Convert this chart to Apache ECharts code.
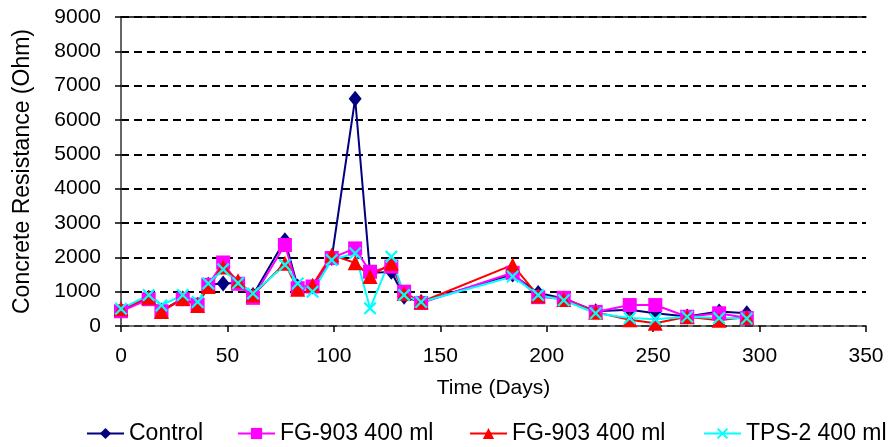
<!DOCTYPE html>
<html>
<head>
<meta charset="utf-8">
<script src="https://cdn.jsdelivr.net/npm/echarts@6/dist/echarts.min.js"></script>
<style>html,body{margin:0;padding:0;background:#fff}#c{width:893px;height:447px}</style>
</head>
<body>
<div id="c"></div>
<script>
const days = [0,13,19,29,36,41,48,55,62,77,83,90,99,110,117,127,133,141,184,196,208,223,239,251,266,281,294];
const control = [450,820,450,800,620,1200,1240,1250,900,2500,1150,1150,1980,6620,1540,1580,850,700,1500,960,800,430,470,370,280,420,370];
const fg903a = [430,780,430,780,620,1200,1850,1230,820,2360,1100,1150,1980,2260,1580,1730,1000,670,1550,840,820,410,610,610,270,370,230];
const fg903b = [500,830,420,800,600,1150,1720,1320,900,1830,1070,1190,2070,1840,1440,1830,950,700,1780,880,770,400,180,80,270,170,260];
const tps2 = [500,900,600,900,700,1240,1650,1250,950,1780,1240,1000,1920,2120,515,2020,900,700,1440,900,750,370,230,200,270,230,220];
const seriesNames = ['Control','FG-903 400 ml','FG-903 400 ml ','TPS-2 400 ml'];
const xTicks = {min:0, max:350, interval:50};
const yTicks = {min:0, max:9000, interval:1000};

const pair = arr => days.map((d,i)=>[d,arr[i]]);
const font = 'Liberation Sans, Arial, sans-serif';
const xShape = 'path://M0,1.2 L1.2,0 L5,3.8 L8.8,0 L10,1.2 L6.2,5 L10,8.8 L8.8,10 L5,6.2 L1.2,10 L0,8.8 L3.8,5 Z';
const legendLefts = [81, 232, 464, 698];

function mk(name, data, color, symbol, size){
  return {name, type:'line', data:pair(data), symbol, symbolSize:size,
    lineStyle:{color, width:2}, itemStyle:{color}, animation:false, z:2};
}

const chart = echarts.init(document.getElementById('c'));
chart.setOption({
  backgroundColor:'#fff',
  animation:false,
  grid:{left:121, right:27, top:17, bottom:121, containLabel:false, outerBoundsMode:'none'},
  legend: seriesNames.map((n,i)=>({
    left:legendLefts[i], top:417, itemWidth:37, itemHeight:14,
    textStyle:{fontFamily:font, fontSize:23, color:'#000'},
    data:[n]
  })),
  xAxis:[{
    type:'value', min:xTicks.min, max:xTicks.max, interval:xTicks.interval,
    name:'Time (Days)', nameLocation:'middle', nameGap:52,
    nameTextStyle:{fontFamily:font, fontSize:21, color:'#000'},
    axisLine:{show:true, lineStyle:{color:'#444', width:1.5}},
    axisTick:{show:true, inside:false, length:6, lineStyle:{color:'#000', width:1.5}},
    axisLabel:{fontFamily:font, fontSize:21, color:'#000', margin:20},
    splitLine:{show:false}
  },{
    type:'value', position:'top', min:xTicks.min, max:xTicks.max,
    axisLine:{show:true, onZero:false, lineStyle:{color:'#000', width:1.5}},
    axisTick:{show:false}, axisLabel:{show:false}, splitLine:{show:false}
  }],
  yAxis:{
    type:'value', min:yTicks.min, max:yTicks.max, interval:yTicks.interval,
    name:'Concrete Resistance (Ohm)', nameLocation:'middle', nameGap:87,
    nameTextStyle:{fontFamily:font, fontSize:23, color:'#000'},
    axisLine:{show:true, lineStyle:{color:'#333', width:1.5}},
    axisTick:{show:true, inside:false, length:6, lineStyle:{color:'#000', width:1.5}},
    axisLabel:{fontFamily:font, fontSize:21, color:'#000', margin:20, formatter: v => String(v)},
    splitLine:{show:true, lineStyle:{color:'#000', width:2, type:[8,5]}}
  },
  series:[
    mk(seriesNames[0], control, '#000080', 'diamond', [13,16]),
    mk(seriesNames[1], fg903a, '#FF00FF', 'rect', 14),
    mk(seriesNames[2], fg903b, '#FF0000', 'triangle', 15),
    mk(seriesNames[3], tps2, '#00FFFF', xShape, 13)
  ]
});
</script>
</body>
</html>
